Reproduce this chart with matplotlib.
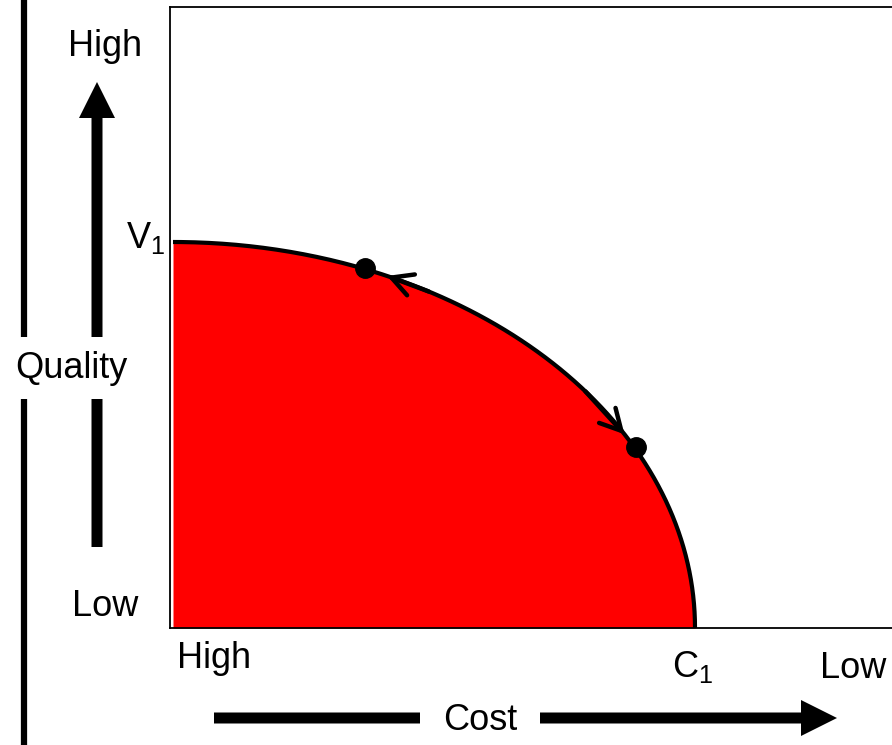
import numpy as np
import matplotlib
matplotlib.use("Agg")
import matplotlib.pyplot as plt

plt.rcParams['font.family'] = ['Liberation Sans', 'DejaVu Sans']
plt.rcParams['mathtext.fontset'] = 'custom'
plt.rcParams['mathtext.rm'] = 'Liberation Sans'
plt.rcParams['mathtext.it'] = 'Liberation Sans'

# Frontier end points (normalised): C1 on cost axis, V1 on quality axis
C1 = 1.0
V1 = 1.0

# Marked points on the frontier
point_cost = [0.368, 0.887]
point_quality = [0.933, 0.469]

# Arrows along the frontier (tail cost, head cost)
arrow_tails = [0.49, 0.79]
arrow_heads = [0.41, 0.865]


def frontier_quality(c):
    return V1 * np.sqrt(np.clip(1 - (np.asarray(c) / C1) ** 2, 0, None))


fig = plt.figure(figsize=(8.92, 7.45), dpi=100)
W, H = 892, 745

# main chart
ax = fig.add_axes([170 / W, (H - 628) / H, (W - 170) / W, (628 - 7) / H])
ax.set_xlim(-3 / 522, (W - 173) / 522)
ax.set_ylim(0, (628 - 7) / 386)
ax.set_xticks([])
ax.set_yticks([])
ax.spines['right'].set_visible(False)
for s in ['left', 'top', 'bottom']:
    ax.spines[s].set_linewidth(1.3)

t = np.linspace(0, np.pi / 2, 300)
fx = C1 * np.cos(t)
fy = V1 * np.sin(t)
ax.fill_between(fx, 0, fy, color='#ff0000', linewidth=0)
ax.plot(fx, fy, color='black', lw=3, solid_capstyle='butt')
ax.plot(point_cost, point_quality, 'o', color='black', markersize=14)

for c0, c1 in zip(arrow_tails, arrow_heads):
    ax.annotate('', xy=(c1, frontier_quality(c1)), xytext=(c0, frontier_quality(c0)),
                arrowprops=dict(arrowstyle='->,head_length=0.75,head_width=0.4',
                                mutation_scale=20, color='black', lw=3.2,
                                shrinkA=0, shrinkB=0))

# overlay in pixel coordinates for labels and big arrows
ov = fig.add_axes([0, 0, 1, 1], facecolor='none')
ov.set_xlim(0, W)
ov.set_ylim(H, 0)
ov.axis('off')

ov.plot([24, 24], [0, H], color='black', lw=4.5, solid_capstyle='butt', zorder=1)

# quality arrow
ov.arrow(97, 547, 0, -547 + 82, width=11, head_width=36, head_length=36,
         length_includes_head=True, color='black', linewidth=0, zorder=1)
# cost arrow
ov.arrow(214, 718, 837 - 214, 0, width=11, head_width=36, head_length=36,
         length_includes_head=True, color='black', linewidth=0, zorder=1)

fs = 26
ov.text(105, 46, 'High', fontsize=fs, ha='center', va='center')
ov.text(71, 368, 'Quality', fontsize=fs, ha='center', va='center',
        bbox=dict(facecolor='white', edgecolor='none', pad=10), zorder=3)
ov.text(105, 607, 'Low', fontsize=fs, ha='center', va='center')
ov.text(146, 238, r'V$_1$', fontsize=fs, ha='center', va='center')
ov.text(214, 658, 'High', fontsize=fs, ha='center', va='center')
ov.text(693, 667, r'C$_1$', fontsize=fs, ha='center', va='center')
ov.text(853, 668, 'Low', fontsize=fs, ha='center', va='center')
ov.text(480, 720, 'Cost', fontsize=fs, ha='center', va='center',
        bbox=dict(facecolor='white', edgecolor='none', pad=16), zorder=3)

fig.savefig('out.png', dpi=100)
